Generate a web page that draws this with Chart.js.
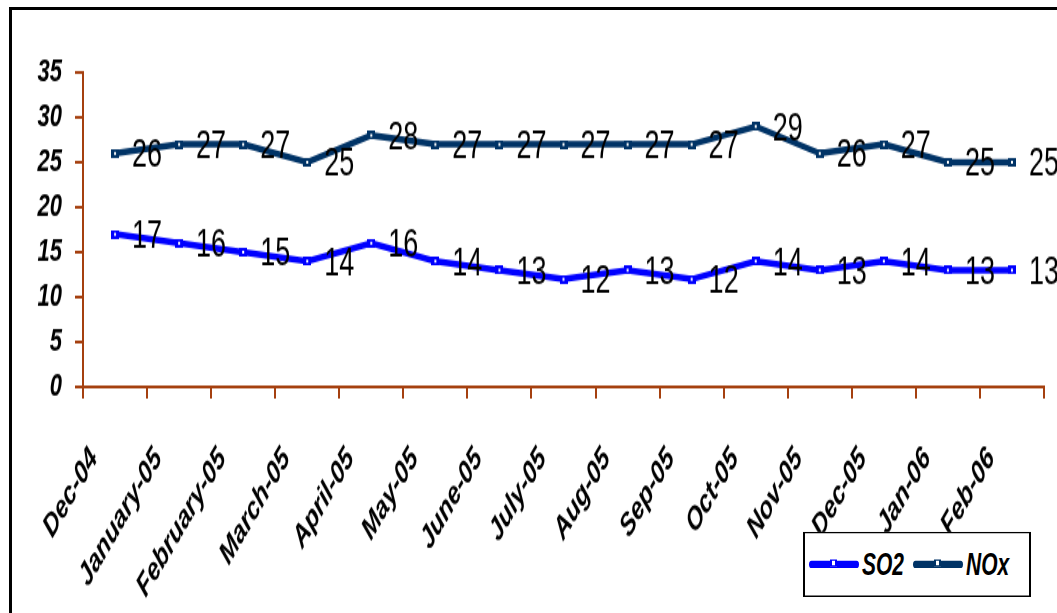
<!DOCTYPE html>
<html>
<head>
<meta charset="utf-8">
<script src="https://cdn.jsdelivr.net/npm/chart.js@4"></script>
<style>
  html, body { margin: 0; padding: 0; background: #fff; overflow: hidden; }
  #wrap { position: relative; width: 1057px; height: 613px; overflow: hidden; }
  #frame { position: absolute; left: 9px; top: 7px; width: 2000px; height: 2000px; border: 3px solid #000; }
  /* the original picture is a vertically stretched Excel chart: draw at 423px high, stretch to 613 */
  #stage { position: absolute; left: 0; top: 0; width: 1057px; height: 423px; transform: scale(1, 1.4492); transform-origin: 0 0; }
  canvas { position: absolute; left: 0; top: 0; }
  #legend { position: absolute; left: 803px; top: 367px; width: 220px; height: 43px; border-style: solid; border-color: #000;
            border-width: 1.4px 2px; background: #fff; display: flex; align-items: center; padding-left: 4px;
            font: italic bold 21px "Liberation Sans", Arial, sans-serif; }
  .item { display: flex; align-items: center; margin-right: 9px; }
  .swatch { position: relative; width: 50px; height: 5px; border-radius: 3px; margin-right: 3px; }
  .swatch i { position: absolute; left: 21px; top: -1px; width: 7px; height: 5px; border-style: solid; border-width: 1.4px 2px; box-sizing: border-box; background: #fff; }
</style>
</head>
<body>
<div id="wrap">
  <div id="frame"></div>
  <div id="stage">
    <canvas id="chart" width="1057" height="423"></canvas>
    <div id="legend"></div>
  </div>
</div>
<script>
const months = ['Dec-04', 'January-05', 'February-05', 'March-05', 'April-05', 'May-05', 'June-05',
  'July-05', 'Aug-05', 'Sep-05', 'Oct-05', 'Nov-05', 'Dec-05', 'Jan-06', 'Feb-06'];
const so2 = [17, 16, 15, 14, 16, 14, 13, 12, 13, 12, 14, 13, 14, 13, 13];
const nox = [26, 27, 27, 25, 28, 27, 27, 27, 27, 27, 29, 26, 27, 25, 25];
const yTicks = [0, 5, 10, 15, 20, 25, 30, 35];

const axisColor = '#A5400F';
const font = '"Liberation Sans", Arial, sans-serif';

// small square marker, drawn flat so it looks square after the stretch
function marker(color) {
  const c = document.createElement('canvas');
  c.width = 8; c.height = 6;
  const g = c.getContext('2d');
  g.fillStyle = color;
  g.fillRect(0, 0, 8, 6);
  g.fillStyle = '#fff';
  g.fillRect(3, 2, 2, 2);
  return c;
}

// value labels to the right of each point
const valueLabels = {
  id: 'valueLabels',
  afterDatasetsDraw(chart) {
    const ctx = chart.ctx;
    ctx.save();
    ctx.font = '27px ' + font;
    ctx.fillStyle = '#000';
    ctx.textAlign = 'center';
    ctx.textBaseline = 'middle';
    chart.data.datasets.forEach((ds, i) => {
      chart.getDatasetMeta(i).data.forEach((pt, j) => {
        ctx.fillText(ds.data[j], pt.x + 32, pt.y + 2);
      });
    });
    ctx.restore();
  }
};

const chart = new Chart(document.getElementById('chart'), {
  type: 'line',
  data: {
    labels: months,
    datasets: [
      { label: 'SO2', data: so2, borderColor: '#0000FF', borderWidth: 4.5, pointStyle: marker('#0000FF'), tension: 0 },
      { label: 'NOx', data: nox, borderColor: '#003366', borderWidth: 4.5, pointStyle: marker('#003366'), tension: 0 }
    ]
  },
  options: {
    responsive: false,
    animation: false,
    layout: { padding: { top: 50, right: 13, left: 0, bottom: 0 } },
    plugins: { legend: { display: false }, tooltip: { enabled: false } },
    scales: {
      x: {
        offset: true,
        grid: { offset: true, drawOnChartArea: false, drawTicks: true, tickLength: 8, color: axisColor, lineWidth: 2 },
        border: { color: axisColor, width: 2 },
        ticks: { color: '#000', minRotation: 50, maxRotation: 50, padding: 29, labelOffset: -21,
                 font: { family: font, size: 22, weight: 'bold', style: 'italic' } },
        afterFit(s) { s.height = 156; s.paddingLeft = 0; s.paddingRight = 0; }
      },
      y: {
        min: 0, max: 35,
        afterBuildTicks(s) { s.ticks = yTicks.map(v => ({ value: v })); },
        grid: { drawOnChartArea: false, drawTicks: true, tickLength: 8, color: axisColor, lineWidth: 2 },
        border: { color: axisColor, width: 2 },
        ticks: { color: '#000', padding: 13, font: { family: font, size: 22, weight: 'bold', style: 'italic' } },
        afterFit(s) { s.width = 83; s.paddingTop = 0; s.paddingBottom = 0; }
      }
    }
  },
  plugins: [valueLabels]
});

// legend built from the datasets
const legend = document.getElementById('legend');
chart.data.datasets.forEach(ds => {
  const item = document.createElement('div');
  item.className = 'item';
  const sw = document.createElement('span');
  sw.className = 'swatch';
  sw.style.background = ds.borderColor;
  const mk = document.createElement('i');
  mk.style.borderColor = ds.borderColor;
  sw.appendChild(mk);
  const txt = document.createElement('span');
  txt.textContent = ds.label;
  item.appendChild(sw);
  item.appendChild(txt);
  legend.appendChild(item);
});
</script>
</body>
</html>
